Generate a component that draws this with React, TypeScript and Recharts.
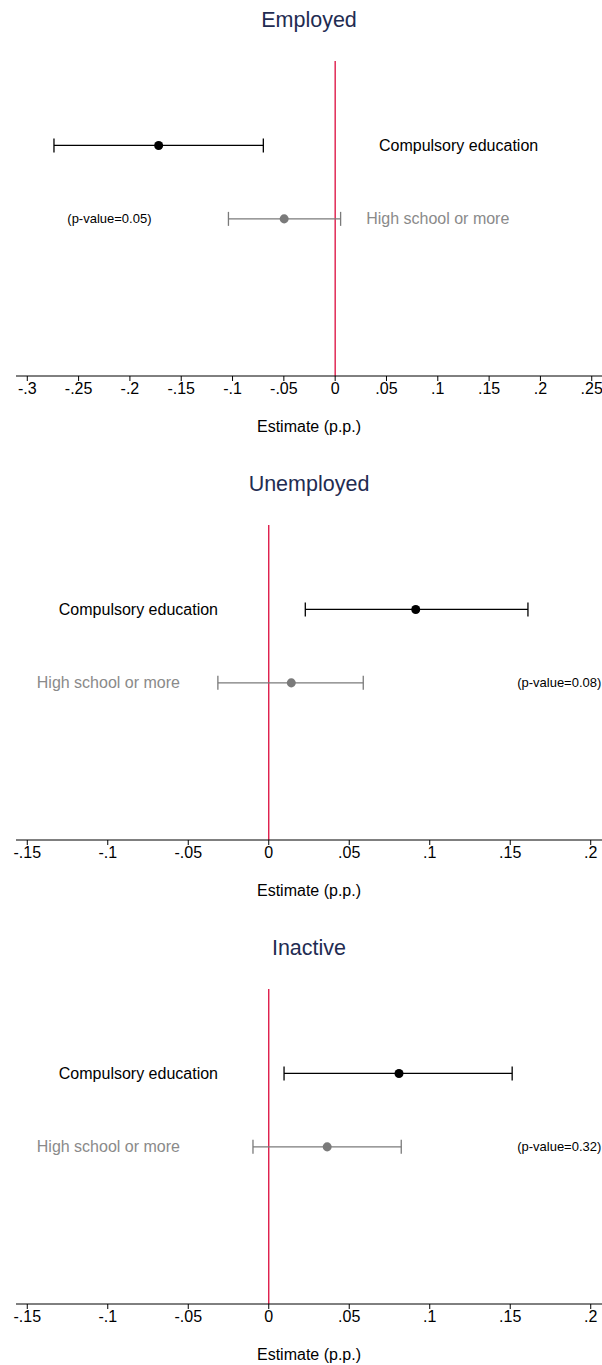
import {
  ErrorBar,
  ReferenceLine,
  Scatter,
  ScatterChart,
  XAxis,
  YAxis,
} from 'recharts';

// outcome panels, top to bottom
const outcomes = ['Employed', 'Unemployed', 'Inactive'];
const groups = ['Compulsory education', 'High school or more'];

// point estimates and 95% CI bounds, one entry per outcome
const compEst = [-0.172, 0.0913, 0.0809];
const compLow = [-0.274, 0.0227, 0.0095];
const compHigh = [-0.07, 0.161, 0.1512];
const hsEst = [-0.0497, 0.014, 0.0363];
const hsLow = [-0.104, -0.0316, -0.0098];
const hsHigh = [0.0053, 0.0587, 0.0823];
const pValues = ['0.05', '0.08', '0.32'];

const ticksEmployed = [-0.3, -0.25, -0.2, -0.15, -0.1, -0.05, 0, 0.05, 0.1, 0.15, 0.2, 0.25];
const ticksOther = [-0.15, -0.1, -0.05, 0, 0.05, 0.1, 0.15, 0.2];

// axis ranges and where the text annotations sit (data units)
const layout = [
  { domain: [-0.311, 0.26], ticks: ticksEmployed, compLabelX: 0.0427, hsLabelX: 0.0302, pLabelX: -0.261 },
  { domain: [-0.157, 0.207], ticks: ticksOther, compLabelX: -0.1304, hsLabelX: -0.1441, pLabelX: 0.1543 },
  { domain: [-0.157, 0.207], ticks: ticksOther, compLabelX: -0.1304, hsLabelX: -0.1441, pLabelX: 0.1543 },
];

const FONT = '"Liberation Sans", Arial, sans-serif';
const RED = '#dc0a3c';
const GREY = '#7a7a7a';
const TITLE = '#1f2c52';

const fmt = (v: number) => (v === 0 ? '0' : String(v).replace('0.', '.'));

const AnnotationShape = (props: any) => {
  const { cx, cy, payload } = props;
  return (
    <text
      x={cx}
      y={cy}
      dy="0.35em"
      textAnchor="start"
      fontFamily={FONT}
      fontSize={payload.size}
      fill={payload.color}
    >
      {payload.text}
    </text>
  );
};

function Panel({ i }: { i: number }) {
  const cfg = layout[i];
  const comp = [{ x: compEst[i], y: 1, err: [compEst[i] - compLow[i], compHigh[i] - compEst[i]] }];
  const hs = [{ x: hsEst[i], y: 2, err: [hsEst[i] - hsLow[i], hsHigh[i] - hsEst[i]] }];
  const notes = [
    { x: cfg.compLabelX, y: 1, text: groups[0], size: 16, color: '#000' },
    { x: cfg.hsLabelX, y: 2, text: groups[1], size: 16, color: '#8a8a8a' },
    { x: cfg.pLabelX, y: 2, text: `(p-value=${pValues[i]})`, size: 13, color: '#000' },
  ];

  return (
    <div style={{ position: 'relative', width: 602, height: 464 }}>
      <svg width={602} height={40} style={{ position: 'absolute', left: 0, top: 0 }}>
        <text x={309} y={27} textAnchor="middle" fontFamily={FONT} fontSize={21.5} fill={TITLE}>
          {outcomes[i]}
        </text>
      </svg>
      <ScatterChart
        width={602}
        height={464}
        margin={{ top: 61, right: 0, bottom: 28, left: 16 }}
      >
        <XAxis
          type="number"
          dataKey="x"
          domain={cfg.domain}
          ticks={cfg.ticks}
          allowDataOverflow
          tickFormatter={fmt}
          tick={{ fill: '#000', fontSize: 16, fontFamily: FONT }}
          tickSize={5}
          tickMargin={2}
          tickLine={{ stroke: '#000' }}
          axisLine={{ stroke: '#000' }}
          height={60}
          label={{
            content: ({ viewBox }: any) => (
              <text
                x={viewBox.x + viewBox.width / 2}
                y={viewBox.y + 56}
                textAnchor="middle"
                fontFamily={FONT}
                fontSize={16}
                fill="#000"
              >
                Estimate (p.p.)
              </text>
            ),
          }}
        />
        <YAxis
          type="number"
          dataKey="y"
          domain={[-0.15, 4.14]}
          reversed
          width={0}
          tick={false}
          tickLine={false}
          axisLine={{ stroke: '#000' }}
        />
        <ReferenceLine x={0} stroke={RED} strokeWidth={1.3} />
        <Scatter data={comp} fill="#000" isAnimationActive={false}>
          <ErrorBar dataKey="err" direction="x" width={7} stroke="#000" strokeWidth={1.3} />
        </Scatter>
        <Scatter data={hs} fill={GREY} isAnimationActive={false}>
          <ErrorBar dataKey="err" direction="x" width={7} stroke={GREY} strokeWidth={1.3} />
        </Scatter>
        <Scatter data={notes} shape={AnnotationShape} isAnimationActive={false} />
      </ScatterChart>
    </div>
  );
}

export default function App() {
  return (
    <div
      style={{
        position: 'absolute',
        left: 0,
        top: 0,
        width: 602,
        height: 1365,
        overflow: 'hidden',
        background: '#fff',
      }}
    >
      {outcomes.map((_, i) => (
        <Panel key={i} i={i} />
      ))}
    </div>
  );
}
